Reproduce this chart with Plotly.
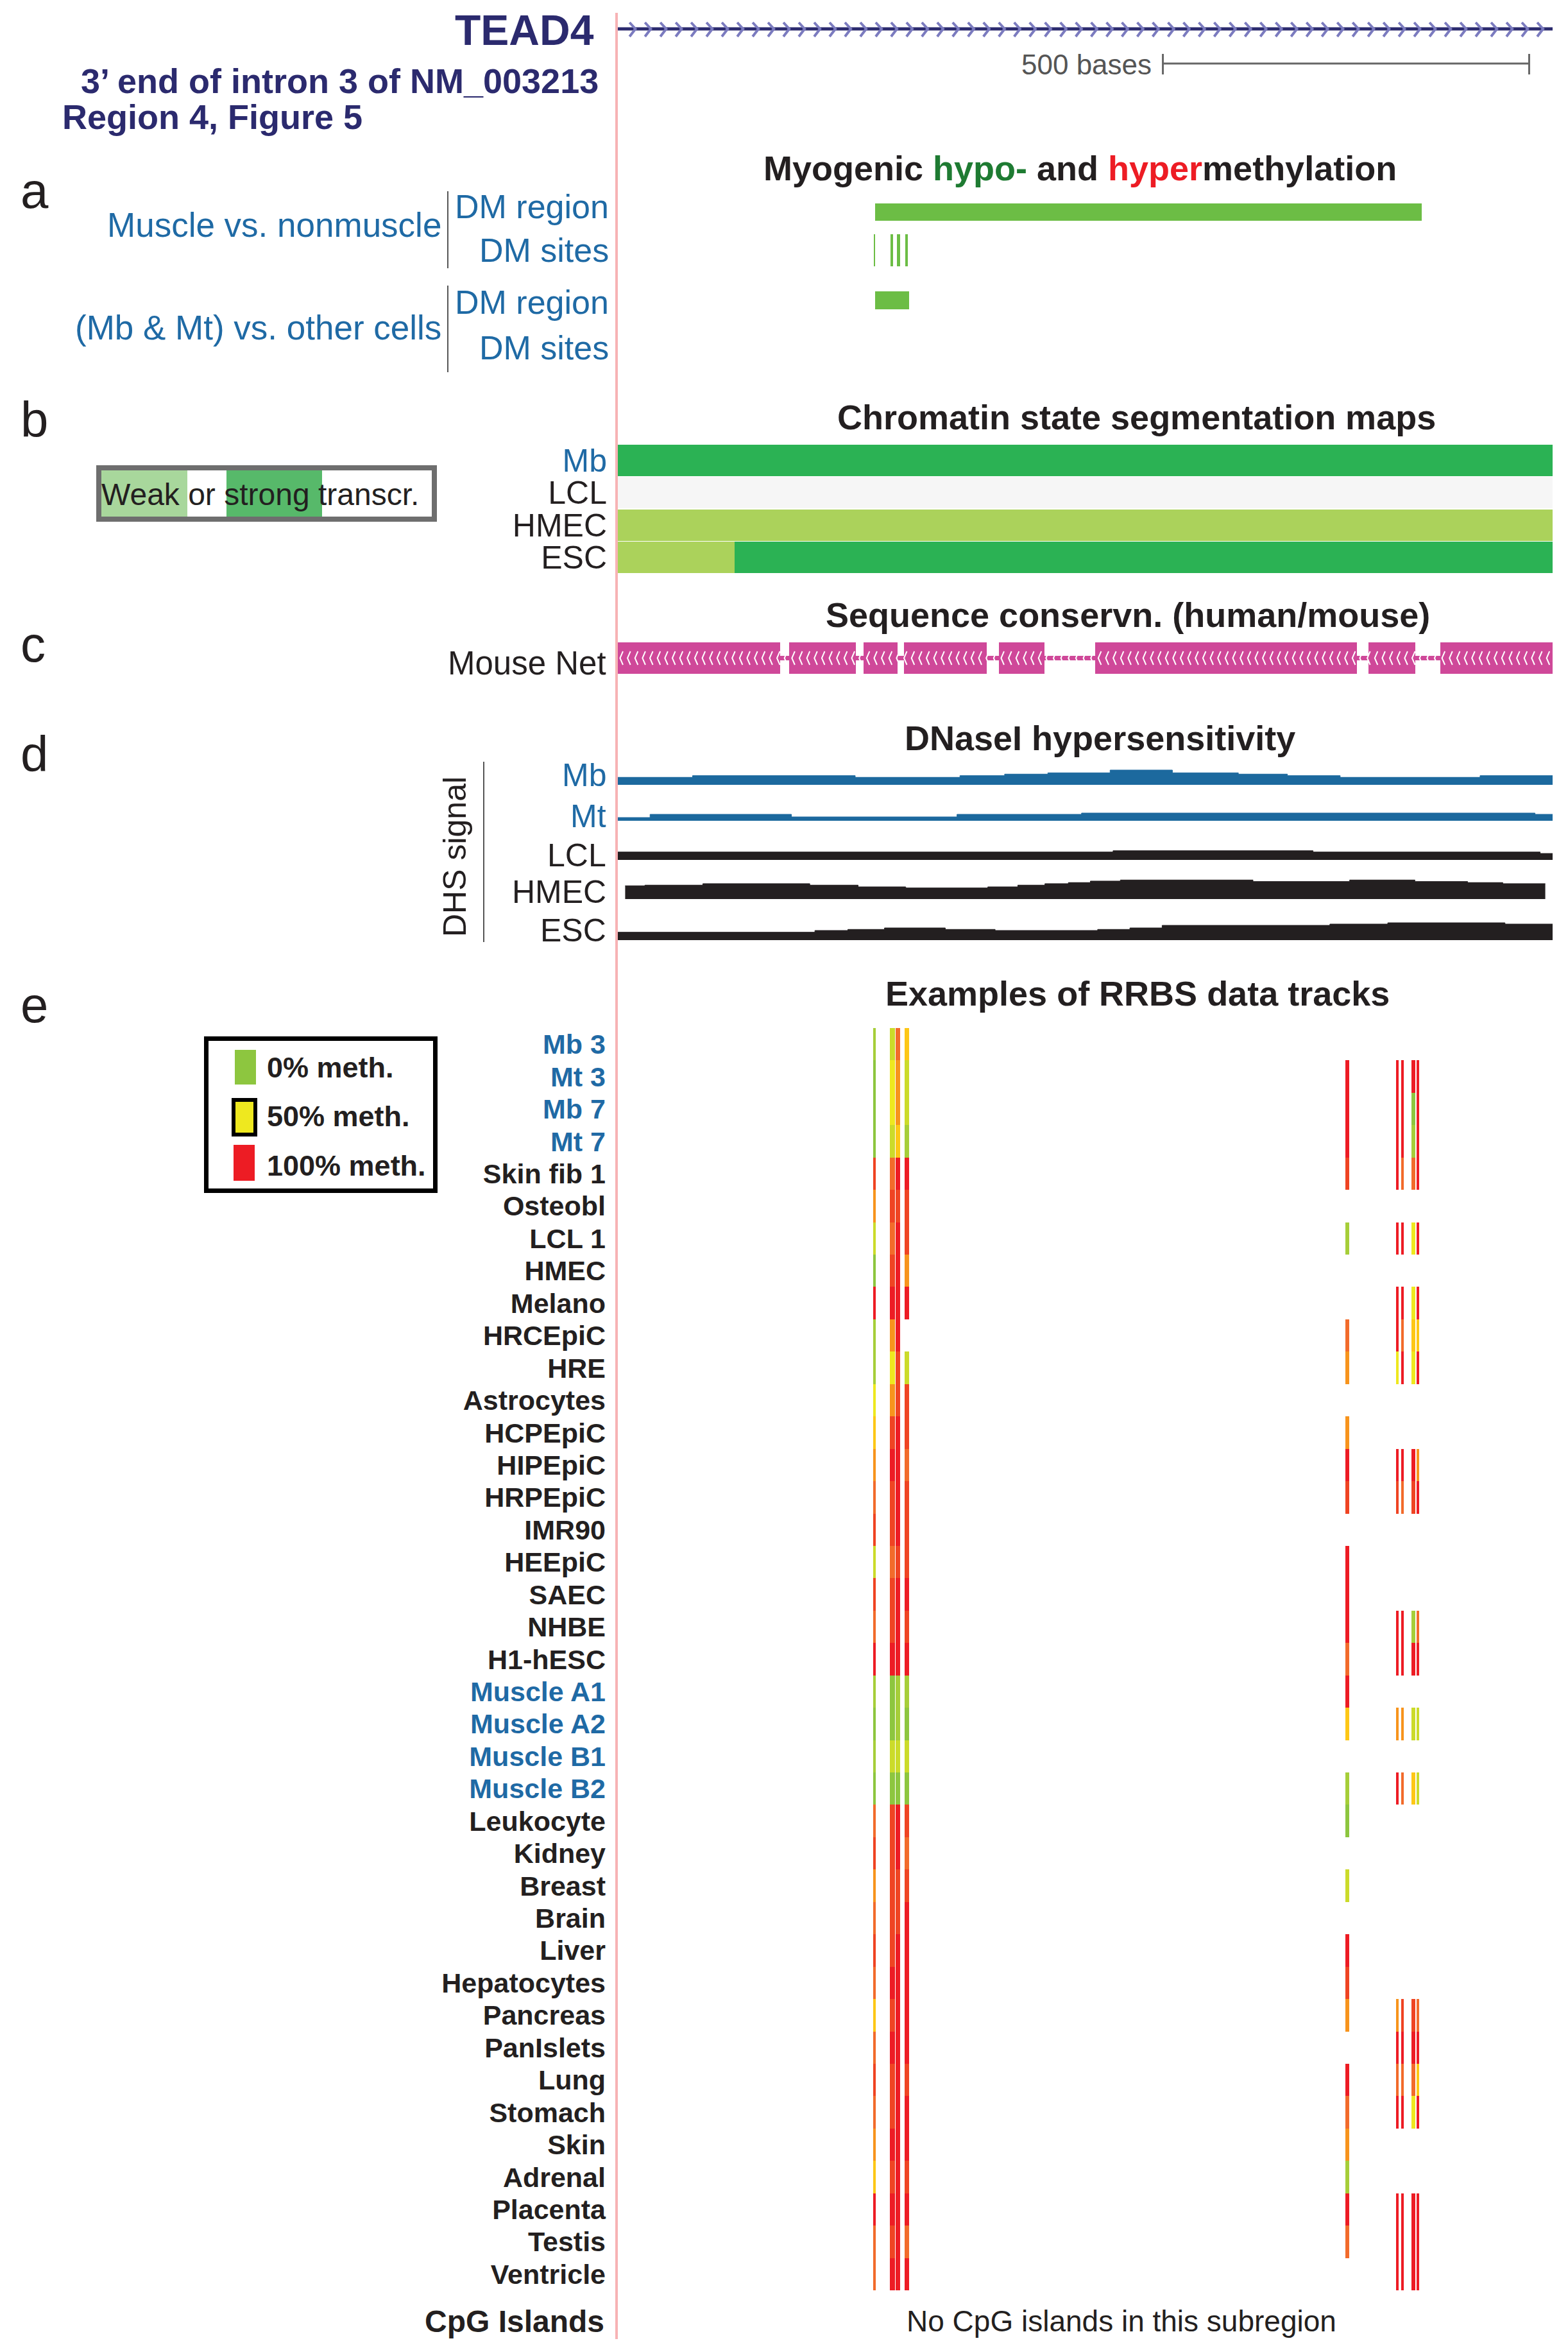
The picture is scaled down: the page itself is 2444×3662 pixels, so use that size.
import numpy as np
import plotly.graph_objects as go

W, H = 2444, 3662
FONT = "Liberation Sans, Arial, Helvetica, sans-serif"
NAVY = "#2b2a6e"
BLUE = "#1f6aa5"
BLACK = "#231f20"

# ======================= DATA =======================
WINDOW_BASES = 1276                      # displayed genomic window (bases)
scale_bar_bases = 500
scale_bar_end = 1244

# (a) differentially methylated regions / sites (bases from window start)
dm_muscle_region = [351, 1097]
dm_muscle_site_start = [349, 372, 381, 392]
dm_muscle_site_end = [351, 376, 385, 396]
dm_mbmt_region = [351, 398]

# (b) chromatin state segmentation
chrom_cells = ["Mb", "LCL", "HMEC", "ESC"]
chrom_seg_cell = ["Mb", "LCL", "HMEC", "ESC", "ESC"]
chrom_seg_start = [0, 0, 0, 0, 159]
chrom_seg_end = [1276, 1276, 1276, 159, 1276]
chrom_seg_state = ["strong", "none", "weak", "weak", "strong"]
state_color = {"strong": "#2bb254", "weak": "#abd25b", "none": "#f6f6f6"}

# (c) mouse net aligned blocks
net_start = [0, 234, 335, 391, 520, 652, 1025, 1123]
net_end = [222, 325, 382, 504, 582, 1009, 1089, 1276]

# (d) DNaseI hypersensitivity signal (step edges, values)
dhs_Mb_edges = [0, 102, 324, 467, 528, 587, 672, 757, 847, 914, 986, 1177, 1276]
dhs_Mb_vals = [11.7, 14.3, 11.7, 14.3, 16.7, 18.7, 23.0, 18.7, 16.7, 14.3, 11.7, 14.3]
dhs_Mt_edges = [0, 44, 237, 463, 633, 1252, 1276]
dhs_Mt_vals = [5.0, 10.0, 6.0, 10.0, 12.0, 10.0]
dhs_LCL_edges = [0, 676, 949, 1259, 1276]
dhs_LCL_vals = [12.3, 14.3, 12.3, 10.0]
dhs_HMEC_edges = [10, 37, 116, 262, 328, 393, 505, 546, 583, 615, 645, 686, 867, 999, 1088, 1160, 1208, 1266]
dhs_HMEC_vals = [20.7, 21.7, 24.0, 21.7, 19.0, 17.3, 19.0, 21.7, 24.0, 25.7, 28.0, 29.7, 27.3, 29.7, 27.3, 25.7, 24.0]
dhs_ESC_edges = [0, 269, 314, 364, 447, 515, 655, 699, 743, 972, 1051, 1211, 1276]
dhs_ESC_vals = [12.3, 15.0, 16.7, 19.0, 16.7, 15.0, 16.7, 19.0, 23.0, 25.0, 27.0, 25.0]

# (e) RRBS tracks
rrbs_samples = ["Mb 3", "Mt 3", "Mb 7", "Mt 7", "Skin fib 1", "Osteobl", "LCL 1", "HMEC",
                "Melano", "HRCEpiC", "HRE", "Astrocytes", "HCPEpiC", "HIPEpiC", "HRPEpiC",
                "IMR90", "HEEpiC", "SAEC", "NHBE", "H1-hESC", "Muscle A1", "Muscle A2",
                "Muscle B1", "Muscle B2", "Leukocyte", "Kidney", "Breast", "Brain", "Liver",
                "Hepatocytes", "Pancreas", "PanIslets", "Lung", "Stomach", "Skin", "Adrenal",
                "Placenta", "Testis", "Ventricle"]
rrbs_blue = {"Mb 3", "Mt 3", "Mb 7", "Mt 7", "Muscle A1", "Muscle A2", "Muscle B1", "Muscle B2"}
cpg_start = [348.6, 371.3, 379.2, 391.5, 993.2, 1062.3, 1069.3, 1083.3, 1090.4]
cpg_end = [352.1, 378.3, 385.4, 397.6, 998.4, 1066.1, 1073.1, 1088.6, 1093.9]
N = None
meth_A = [15,0,0,0,90,70,30,0,100,15,15,50,60,70,80,90,30,90,80,100,15,0,15,0,80,90,70,80,90,80,60,80,90,80,70,60,100,80,80]
meth_B = [30,50,50,30,80,90,80,90,100,70,50,70,90,100,90,90,80,90,90,100,0,0,30,0,90,90,90,90,90,100,90,100,90,90,100,90,100,90,100]
meth_C = [80,70,70,60,100,90,100,100,100,100,90,90,100,100,100,100,90,100,100,100,15,15,30,0,100,100,90,90,100,100,100,100,100,100,100,100,100,100,100]
meth_D = [60,30,30,15,100,90,90,70,100,N,30,90,90,80,90,90,90,100,90,100,15,0,30,0,90,80,90,100,100,100,100,100,90,100,100,90,100,80,100]
meth_E = [N,100,100,100,90,N,15,N,N,80,70,N,70,100,90,N,100,100,100,80,100,60,N,15,0,N,30,N,100,90,70,N,100,80,70,15,100,80,N]
meth_F = [N,100,100,100,100,N,100,N,100,100,50,N,N,100,90,N,N,N,100,100,N,70,N,100,N,N,N,N,N,N,70,100,80,100,N,N,100,100,100]
meth_G = [N,100,100,100,80,N,100,N,100,80,100,N,N,100,80,N,N,N,100,100,N,70,N,80,N,N,N,N,N,N,90,100,80,100,N,N,100,100,100]
meth_H = [N,100,0,15,80,N,50,N,50,60,50,N,N,100,90,N,N,N,15,100,N,30,N,60,N,N,N,N,N,N,90,100,80,50,N,N,100,100,100]
meth_I = [N,100,100,100,100,N,100,N,100,60,100,N,N,70,100,N,N,N,80,100,N,30,N,30,N,N,N,N,N,N,80,100,60,100,N,N,100,100,100]
meth_columns = [meth_A, meth_B, meth_C, meth_D, meth_E, meth_F, meth_G, meth_H, meth_I]

meth_levels = [0, 15, 30, 50, 60, 70, 80, 90, 100]
meth_colors = ["#8dc63f", "#a6ce39", "#cbdb2a", "#eee81f", "#fdc716", "#f7941d", "#f26b2b", "#ef4423", "#ed1c24"]


def meth_color(v):
    i = int(np.argmin([abs(v - l) for l in meth_levels]))
    return meth_colors[i]


# ======================= LAYOUT HELPERS =======================
def py(y):
    return 1 - y / H


def band(top, bottom):
    return [1 - bottom / H, 1 - top / H]


annotations = []
shapes = []


def label(text, x, y, size, color=BLACK, anchor="right", bold=False, angle=0):
    annotations.append(dict(text=text, x=x / W, y=py(y), xref="paper", yref="paper",
                            xanchor=anchor, yanchor="middle", showarrow=False, textangle=angle,
                            font=dict(family=FONT, size=size, color=color, weight=700 if bold else 400)))


def rect(x0, y0, x1, y1, fill="rgba(0,0,0,0)", lc="rgba(0,0,0,0)", lw=0, layer="above"):
    shapes.append(dict(type="rect", xref="paper", yref="paper", x0=x0 / W, x1=x1 / W,
                       y0=py(y1), y1=py(y0), fillcolor=fill, line=dict(color=lc, width=lw), layer=layer))


def vline(x, y0, y1, color, width):
    shapes.append(dict(type="line", xref="paper", yref="paper", x0=x / W, x1=x / W,
                       y0=py(y0), y1=py(y1), line=dict(color=color, width=width)))


fig = go.Figure()

# ---------------- gene track ----------------
fig.add_trace(go.Scatter(x=[0, WINDOW_BASES], y=[45, 45], mode="lines",
                         line=dict(color=NAVY, width=5), hoverinfo="skip", xaxis="x", yaxis="y"))
cx, cy = [], []
for x0 in np.arange(16, WINDOW_BASES - 8, 21):
    cx += [x0, x0 + 8, x0, None]
    cy += [35, 45, 57, None]
fig.add_trace(go.Scatter(x=cx, y=cy, mode="lines", line=dict(color="#7b7bbf", width=4),
                         hoverinfo="skip", xaxis="x", yaxis="y"))

# scale bar
sb0 = scale_bar_end - scale_bar_bases
fig.add_trace(go.Scatter(x=[sb0, scale_bar_end, None, sb0, sb0, None, scale_bar_end, scale_bar_end],
                         y=[99, 99, None, 84, 116, None, 84, 116], mode="lines",
                         line=dict(color="#666666", width=3), hoverinfo="skip", xaxis="x", yaxis="y"))

# ---------------- (a) DM tracks ----------------
DMG = "#6cbd45"
fig.add_trace(go.Bar(orientation="h", y=[330.5], base=[dm_muscle_region[0]],
                     x=[dm_muscle_region[1] - dm_muscle_region[0]], width=27,
                     marker=dict(color=DMG, line=dict(width=0)), hoverinfo="skip", xaxis="x", yaxis="y"))
fig.add_trace(go.Bar(orientation="h", y=[390] * len(dm_muscle_site_start), base=dm_muscle_site_start,
                     x=[e - s for s, e in zip(dm_muscle_site_start, dm_muscle_site_end)], width=50,
                     marker=dict(color=DMG, line=dict(width=0)), hoverinfo="skip", xaxis="x", yaxis="y"))
fig.add_trace(go.Bar(orientation="h", y=[468], base=[dm_mbmt_region[0]],
                     x=[dm_mbmt_region[1] - dm_mbmt_region[0]], width=28,
                     marker=dict(color=DMG, line=dict(width=0)), hoverinfo="skip", xaxis="x", yaxis="y"))

# ---------------- (b) chromatin states ----------------
fig.add_trace(go.Bar(orientation="h", y=[chrom_cells.index(c) for c in chrom_seg_cell],
                     base=chrom_seg_start, x=[e - s for s, e in zip(chrom_seg_start, chrom_seg_end)],
                     width=0.97, marker=dict(color=[state_color[s] for s in chrom_seg_state], line=dict(width=0)),
                     hoverinfo="skip", xaxis="x", yaxis="y2"))

# ---------------- (c) mouse net ----------------
PINK = "#cf4899"
fig.add_trace(go.Scatter(x=[0, WINDOW_BASES], y=[1025.5, 1025.5], mode="lines",
                         line=dict(color=PINK, width=7), hoverinfo="skip", xaxis="x", yaxis="y"))
fig.add_trace(go.Bar(orientation="h", y=[1025.5] * len(net_start), base=net_start,
                     x=[e - s for s, e in zip(net_start, net_end)], width=49,
                     marker=dict(color=PINK, line=dict(width=0)), hoverinfo="skip", xaxis="x", yaxis="y"))
nx, ny = [], []
for x0 in np.arange(3, WINDOW_BASES - 5, 10.2):
    nx += [x0 + 4, x0, x0 + 4, None]
    ny += [1015, 1025.5, 1036, None]
fig.add_trace(go.Scatter(x=nx, y=ny, mode="lines", line=dict(color="white", width=2),
                         hoverinfo="skip", xaxis="x", yaxis="y"))

# ---------------- (d) DNase ----------------
dhs_tracks = [("y3", dhs_Mb_edges, dhs_Mb_vals, "#1c699e"),
              ("y4", dhs_Mt_edges, dhs_Mt_vals, "#1c699e"),
              ("y5", dhs_LCL_edges, dhs_LCL_vals, BLACK),
              ("y6", dhs_HMEC_edges, dhs_HMEC_vals, BLACK),
              ("y7", dhs_ESC_edges, dhs_ESC_vals, BLACK)]
for ax, edges, vals, col in dhs_tracks:
    fig.add_trace(go.Scatter(x=edges, y=list(vals) + [vals[-1]], mode="lines",
                             line=dict(shape="hv", color=col, width=1), fill="tozeroy", fillcolor=col,
                             hoverinfo="skip", xaxis="x", yaxis=ax))

# ---------------- (e) RRBS ----------------
for cs, ce, col in zip(cpg_start, cpg_end, meth_columns):
    rows = [i for i, v in enumerate(col) if v is not None]
    fig.add_trace(go.Bar(orientation="h", y=rows, base=[cs] * len(rows), x=[ce - cs] * len(rows),
                         width=1.0, marker=dict(color=[meth_color(col[i]) for i in rows], line=dict(width=0)),
                         hoverinfo="skip", xaxis="x", yaxis="y8"))

# ======================= TEXT =======================
label("TEAD4", 928, 47, 66, NAVY, bold=True)
label("3’ end of intron 3 of NM_003213", 935, 126, 54, NAVY, bold=True)
label("Region 4, Figure 5", 95, 182, 54, NAVY, anchor="left", bold=True)
label("500 bases", 1797, 100, 44, "#555555")

# section letters
for t, y in [("a", 297), ("b", 654), ("c", 1004), ("d", 1175), ("e", 1566)]:
    label(t, 30, y, 78, BLACK, anchor="left")

# titles
label("Myogenic <span style='color:#1e7b32'>hypo-</span> and <span style='color:#ed1c24'>hyper</span>methylation",
      1683, 262, 54, BLACK, anchor="center", bold=True)
label("Chromatin state segmentation maps", 1771, 650, 54, BLACK, anchor="center", bold=True)
label("Sequence conservn. (human/mouse)", 1758, 958, 54, BLACK, anchor="center", bold=True)
label("DNaseI hypersensitivity", 1714, 1150, 54, BLACK, anchor="center", bold=True)
label("Examples of RRBS data tracks", 1773, 1548, 54, BLACK, anchor="center", bold=True)

# (a) labels
label("Muscle vs. nonmuscle", 690, 351, 53, BLUE)
label("(Mb &amp; Mt) vs. other cells", 690, 510, 53, BLUE)
for t, y in [("DM region", 322), ("DM sites", 390), ("DM region", 471), ("DM sites", 542)]:
    label(t, 951, y, 52, BLUE)
vline(698, 298, 418, "#555555", 2)
vline(698, 445, 580, "#555555", 2)

# (b) legend
rect(158, 733, 292, 805, fill="#a8d79c", layer="below")
rect(353, 729, 502, 809, fill="#57b96a", layer="below")
rect(154, 729, 677, 809, lc="#6e6e6e", lw=8)
label("Weak or strong transcr.", 156, 770, 48, BLACK, anchor="left")

# (c)
label("Mouse Net", 947, 1033, 51, BLACK)

# (d)
for t, y, c in [("Mb", 1208, BLUE), ("Mt", 1272, BLUE), ("LCL", 1333, BLACK), ("HMEC", 1390, BLACK), ("ESC", 1450, BLACK)]:
    label(t, 947, y, 50, c)
label("DHS signal", 709, 1335, 50, BLACK, anchor="center", angle=-90)
vline(754, 1187, 1468, "#555555", 2)

# (e) legend
rect(321.5, 1618.5, 678.5, 1855.5, lc="black", lw=7)
rect(366, 1636, 399, 1690, fill="#8dc63f")
rect(364, 1714, 398, 1768, fill="#eee81f", lc="black", lw=6)
rect(364, 1784, 397, 1840, fill="#ed1c24")
label("0% meth.", 414, 1663, 45, BLACK, anchor="left", bold=True)
label("50% meth.", 414, 1739, 45, BLACK, anchor="left", bold=True)
label("100% meth.", 414, 1816, 45, BLACK, anchor="left", bold=True)

label("CpG Islands", 944, 3617, 48, BLACK, bold=True)
label("No CpG islands in this subregion", 1748, 3617, 46, BLACK, anchor="center")

# browser left-label boundary
vline(961, 20, 3645, "#f7b3b5", 4)

# ======================= AXES =======================
hidden = dict(visible=False, fixedrange=True)
dhs_base = {"yaxis3": 1223, "yaxis4": 1279, "yaxis5": 1340, "yaxis6": 1401, "yaxis7": 1465}

layout_axes = dict(
    xaxis=dict(domain=[963 / W, 2420 / W], range=[0, WINDOW_BASES], anchor="y", **hidden),
    yaxis=dict(domain=[0, 1], range=[H, 0], anchor="x", **hidden),
    yaxis2=dict(domain=band(692, 894), range=[3.5, -0.5], anchor="x", tickmode="array",
                tickvals=list(range(len(chrom_cells))),
                ticktext=[f"<span style='color:{BLUE if c == 'Mb' else BLACK}'>{c}</span>" for c in chrom_cells],
                tickfont=dict(family=FONT, size=50, color=BLACK), ticks="", ticklabelstandoff=16,
                showgrid=False, zeroline=False, showline=False, automargin=False, fixedrange=True),
    yaxis8=dict(domain=band(1602, 3569), range=[len(rrbs_samples) - 0.5, -0.5], anchor="x", tickmode="array",
                tickvals=list(range(len(rrbs_samples))),
                ticktext=[f"<span style='color:{BLUE if s in rrbs_blue else BLACK}'>{s}</span>" for s in rrbs_samples],
                tickfont=dict(family=FONT, size=43, color=BLACK, weight=700), ticks="", ticklabelstandoff=18,
                showgrid=False, zeroline=False, showline=False, automargin=False, fixedrange=True),
)
for k, b in dhs_base.items():
    layout_axes[k] = dict(domain=band(b - 32, b), range=[0, 32], anchor="x", **hidden)

fig.update_layout(
    width=W, height=H, margin=dict(l=0, r=0, t=0, b=0),
    paper_bgcolor="white", plot_bgcolor="rgba(0,0,0,0)",
    showlegend=False, barmode="overlay", bargap=0,
    annotations=annotations, shapes=shapes,
    **layout_axes,
)

fig.write_html("out.html", config={"displayModeBar": False},
               post_script="document.body.style.margin='0px';document.body.style.overflow='hidden';")
